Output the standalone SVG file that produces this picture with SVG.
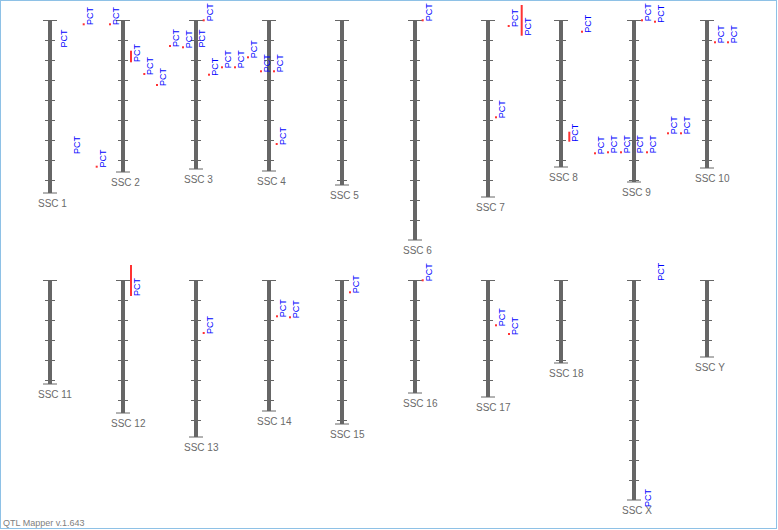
<svg xmlns="http://www.w3.org/2000/svg" width="778" height="530" viewBox="0 0 778 530">
<style>
.bar{fill:#666}
.tk{stroke:#666;stroke-width:1;fill:none}
.lab{font-family:"Liberation Sans",Arial,sans-serif;font-size:10px;fill:#6a6a6a}
.q{font-family:"Liberation Sans",Arial,sans-serif;font-size:9px;fill:#0000ff}
.d{fill:#f33}
.foot{font-family:"Liberation Sans",Arial,sans-serif;font-size:9px;fill:#808080}
</style>
<rect x="0.5" y="0.5" width="776" height="528" fill="#fff" stroke="#8ec1e6" stroke-width="1"/>

<g id="ssc1"><rect class="bar" x="48" y="20" width="4" height="173"/><path class="tk" d="M43 20.5h14M45 40.5h10M45 60.5h10M45 80.5h10M45 100.5h10M45 120.5h10M45 140.5h10M45 160.5h10M45 180.5h10M43 193h14"/><text class="lab" x="38" y="207">SSC 1</text></g>
<g id="ssc2"><rect class="bar" x="121" y="20" width="4" height="152"/><path class="tk" d="M116 20.5h14M118 40.5h10M118 60.5h10M118 80.5h10M118 100.5h10M118 120.5h10M118 140.5h10M118 160.5h10M116 172h14"/><text class="lab" x="111" y="186">SSC 2</text></g>
<g id="ssc3"><rect class="bar" x="194" y="20" width="4" height="149"/><path class="tk" d="M189 20.5h14M191 40.5h10M191 60.5h10M191 80.5h10M191 100.5h10M191 120.5h10M191 140.5h10M191 160.5h10M189 169h14"/><text class="lab" x="184" y="183">SSC 3</text></g>
<g id="ssc4"><rect class="bar" x="267" y="20" width="4" height="151"/><path class="tk" d="M262 20.5h14M264 40.5h10M264 60.5h10M264 80.5h10M264 100.5h10M264 120.5h10M264 140.5h10M264 160.5h10M262 171h14"/><text class="lab" x="257" y="185">SSC 4</text></g>
<g id="ssc5"><rect class="bar" x="340" y="20" width="4" height="165"/><path class="tk" d="M335 20.5h14M337 40.5h10M337 60.5h10M337 80.5h10M337 100.5h10M337 120.5h10M337 140.5h10M337 160.5h10M337 180.5h10M335 185h14"/><text class="lab" x="330" y="199">SSC 5</text></g>
<g id="ssc6"><rect class="bar" x="413" y="20" width="4" height="220"/><path class="tk" d="M408 20.5h14M410 40.5h10M410 60.5h10M410 80.5h10M410 100.5h10M410 120.5h10M410 140.5h10M410 160.5h10M410 180.5h10M410 200.5h10M410 220.5h10M408 240h14"/><text class="lab" x="403" y="254">SSC 6</text></g>
<g id="ssc7"><rect class="bar" x="486" y="20" width="4" height="177"/><path class="tk" d="M481 20.5h14M483 40.5h10M483 60.5h10M483 80.5h10M483 100.5h10M483 120.5h10M483 140.5h10M483 160.5h10M483 180.5h10M481 197h14"/><text class="lab" x="476" y="211">SSC 7</text></g>
<g id="ssc8"><rect class="bar" x="559" y="20" width="4" height="147"/><path class="tk" d="M554 20.5h14M556 40.5h10M556 60.5h10M556 80.5h10M556 100.5h10M556 120.5h10M556 140.5h10M556 160.5h10M554 167h14"/><text class="lab" x="549" y="181">SSC 8</text></g>
<g id="ssc9"><rect class="bar" x="632" y="20" width="4" height="162"/><path class="tk" d="M627 20.5h14M629 40.5h10M629 60.5h10M629 80.5h10M629 100.5h10M629 120.5h10M629 140.5h10M629 160.5h10M629 180.5h10M627 182h14"/><text class="lab" x="622" y="196">SSC 9</text></g>
<g id="ssc10"><rect class="bar" x="705" y="20" width="4" height="148"/><path class="tk" d="M700 20.5h14M702 40.5h10M702 60.5h10M702 80.5h10M702 100.5h10M702 120.5h10M702 140.5h10M702 160.5h10M700 168h14"/><text class="lab" x="695" y="182">SSC 10</text></g>

<g id="ssc11"><rect class="bar" x="48" y="280" width="4" height="104"/><path class="tk" d="M43 280.5h14M45 300.5h10M45 320.5h10M45 340.5h10M45 360.5h10M45 380.5h10M43 384h14"/><text class="lab" x="38" y="398">SSC 11</text></g>
<g id="ssc12"><rect class="bar" x="121" y="280" width="4" height="133"/><path class="tk" d="M116 280.5h14M118 300.5h10M118 320.5h10M118 340.5h10M118 360.5h10M118 380.5h10M118 400.5h10M116 413h14"/><text class="lab" x="111" y="427">SSC 12</text></g>
<g id="ssc13"><rect class="bar" x="194" y="280" width="4" height="157"/><path class="tk" d="M189 280.5h14M191 300.5h10M191 320.5h10M191 340.5h10M191 360.5h10M191 380.5h10M191 400.5h10M191 420.5h10M189 437h14"/><text class="lab" x="184" y="451">SSC 13</text></g>
<g id="ssc14"><rect class="bar" x="267" y="280" width="4" height="131"/><path class="tk" d="M262 280.5h14M264 300.5h10M264 320.5h10M264 340.5h10M264 360.5h10M264 380.5h10M264 400.5h10M262 411h14"/><text class="lab" x="257" y="425">SSC 14</text></g>
<g id="ssc15"><rect class="bar" x="340" y="280" width="4" height="144"/><path class="tk" d="M335 280.5h14M337 300.5h10M337 320.5h10M337 340.5h10M337 360.5h10M337 380.5h10M337 400.5h10M337 420.5h10M335 424h14"/><text class="lab" x="330" y="438">SSC 15</text></g>
<g id="ssc16"><rect class="bar" x="413" y="280" width="4" height="113"/><path class="tk" d="M408 280.5h14M410 300.5h10M410 320.5h10M410 340.5h10M410 360.5h10M410 380.5h10M408 393h14"/><text class="lab" x="403" y="407">SSC 16</text></g>
<g id="ssc17"><rect class="bar" x="486" y="280" width="4" height="117"/><path class="tk" d="M481 280.5h14M483 300.5h10M483 320.5h10M483 340.5h10M483 360.5h10M483 380.5h10M481 397h14"/><text class="lab" x="476" y="411">SSC 17</text></g>
<g id="ssc18"><rect class="bar" x="559" y="280" width="4" height="83"/><path class="tk" d="M554 280.5h14M556 300.5h10M556 320.5h10M556 340.5h10M556 360.5h10M554 363h14"/><text class="lab" x="549" y="377">SSC 18</text></g>
<g id="sscX"><rect class="bar" x="632" y="280" width="4" height="220"/><path class="tk" d="M627 280.5h14M629 300.5h10M629 320.5h10M629 340.5h10M629 360.5h10M629 380.5h10M629 400.5h10M629 420.5h10M629 440.5h10M629 460.5h10M629 480.5h10M627 500h14"/><text class="lab" x="622" y="514">SSC X</text></g>
<g id="sscY"><rect class="bar" x="705" y="280" width="4" height="77"/><path class="tk" d="M700 280.5h14M702 300.5h10M702 320.5h10M702 340.5h10M700 357h14"/><text class="lab" x="695" y="371">SSC Y</text></g>

<g id="qtls">
<text class="q" transform="translate(67 47.5) rotate(-90)">PCT</text>
<text class="q" transform="translate(80.3 154) rotate(-90)">PCT</text>
<rect class="d" x="95.7" y="165.7" width="2" height="2"/><text class="q" transform="translate(105.5 167.5) rotate(-90)">PCT</text>
<rect class="d" x="82.7" y="23.3" width="2" height="2"/><text class="q" transform="translate(92.7 25) rotate(-90)">PCT</text>
<rect class="d" x="109" y="23.3" width="2" height="2"/><text class="q" transform="translate(119 25) rotate(-90)">PCT</text>
<rect class="d" x="130" y="50.7" width="2" height="11.6"/><text class="q" transform="translate(140 62) rotate(-90)">PCT</text>
<rect class="d" x="143.3" y="73" width="2" height="2"/><text class="q" transform="translate(153 75) rotate(-90)">PCT</text>
<rect class="d" x="156" y="84" width="2" height="2"/><text class="q" transform="translate(166 86) rotate(-90)">PCT</text>
<rect class="d" x="169" y="45" width="2" height="2"/><text class="q" transform="translate(179 47) rotate(-90)">PCT</text>
<rect class="d" x="182" y="46.3" width="2" height="2"/><text class="q" transform="translate(192 48.3) rotate(-90)">PCT</text>
<text class="q" transform="translate(204.5 47.5) rotate(-90)">PCT</text>
<rect class="d" x="202.7" y="19.3" width="2" height="2"/><text class="q" transform="translate(212.7 21.3) rotate(-90)">PCT</text>
<rect class="d" x="208" y="73.7" width="2" height="2"/><text class="q" transform="translate(218 75.7) rotate(-90)">PCT</text>
<rect class="d" x="221" y="66.3" width="2" height="2"/><text class="q" transform="translate(231 68.3) rotate(-90)">PCT</text>
<rect class="d" x="234" y="66.3" width="2" height="2"/><text class="q" transform="translate(244 68.3) rotate(-90)">PCT</text>
<rect class="d" x="247" y="56.3" width="2" height="2"/><text class="q" transform="translate(257 58.3) rotate(-90)">PCT</text>
<rect class="d" x="260" y="70.3" width="2" height="2"/><text class="q" transform="translate(270 72.3) rotate(-90)">PCT</text>
<rect class="d" x="273" y="70.3" width="2" height="2"/><text class="q" transform="translate(283 72.3) rotate(-90)">PCT</text>
<rect class="d" x="275.7" y="143" width="2" height="2"/><text class="q" transform="translate(285.7 145) rotate(-90)">PCT</text>
<rect class="d" x="421.7" y="19.3" width="2" height="2"/><text class="q" transform="translate(431.7 21.3) rotate(-90)">PCT</text>
<rect class="d" x="507.7" y="25" width="2" height="2"/><text class="q" transform="translate(517.7 27) rotate(-90)">PCT</text>
<rect class="d" x="520.7" y="5" width="2" height="30.7"/><text class="q" transform="translate(530.7 35.5) rotate(-90)">PCT</text>
<rect class="d" x="495" y="116.3" width="2" height="2"/><text class="q" transform="translate(505 118.3) rotate(-90)">PCT</text>
<rect class="d" x="581" y="30.7" width="2" height="2"/><text class="q" transform="translate(591 32.7) rotate(-90)">PCT</text>
<rect class="d" x="568.3" y="131.7" width="2" height="10"/><text class="q" transform="translate(578.3 141.7) rotate(-90)">PCT</text>
<rect class="d" x="594" y="152.3" width="2" height="2"/><text class="q" transform="translate(604 154.3) rotate(-90)">PCT</text>
<rect class="d" x="607" y="151.3" width="2" height="2"/><text class="q" transform="translate(617 153.3) rotate(-90)">PCT</text>
<rect class="d" x="620" y="151.3" width="2" height="2"/><text class="q" transform="translate(630 153.3) rotate(-90)">PCT</text>
<text class="q" transform="translate(643 153.3) rotate(-90)">PCT</text>
<rect class="d" x="646" y="151.3" width="2" height="2"/><text class="q" transform="translate(656 153.3) rotate(-90)">PCT</text>
<rect class="d" x="641" y="19.3" width="2" height="2"/><text class="q" transform="translate(651 21.3) rotate(-90)">PCT</text>
<rect class="d" x="654" y="20.7" width="2" height="2"/><text class="q" transform="translate(664 22.7) rotate(-90)">PCT</text>
<rect class="d" x="667" y="132.3" width="2" height="2"/><text class="q" transform="translate(677 134.3) rotate(-90)">PCT</text>
<rect class="d" x="680" y="132.3" width="2" height="2"/><text class="q" transform="translate(690 134.3) rotate(-90)">PCT</text>
<rect class="d" x="714" y="41.3" width="2" height="2"/><text class="q" transform="translate(724 43.3) rotate(-90)">PCT</text>
<rect class="d" x="727" y="41.3" width="2" height="2"/><text class="q" transform="translate(737 43.3) rotate(-90)">PCT</text>
<rect class="d" x="130" y="265" width="2" height="31"/><text class="q" transform="translate(140 296) rotate(-90)">PCT</text>
<rect class="d" x="202.7" y="332" width="2" height="2"/><text class="q" transform="translate(212.7 334) rotate(-90)">PCT</text>
<rect class="d" x="276" y="315.3" width="2" height="2"/><text class="q" transform="translate(286 317.3) rotate(-90)">PCT</text>
<rect class="d" x="289" y="316.3" width="2" height="2"/><text class="q" transform="translate(299 318.3) rotate(-90)">PCT</text>
<rect class="d" x="349" y="291.3" width="2" height="2"/><text class="q" transform="translate(359 293.3) rotate(-90)">PCT</text>
<rect class="d" x="421.7" y="279.3" width="2" height="2"/><text class="q" transform="translate(431.7 281.3) rotate(-90)">PCT</text>
<rect class="d" x="495" y="324.3" width="2" height="2"/><text class="q" transform="translate(505 326.3) rotate(-90)">PCT</text>
<rect class="d" x="508" y="333" width="2" height="2"/><text class="q" transform="translate(518 335) rotate(-90)">PCT</text>
<text class="q" transform="translate(664.3 280.7) rotate(-90)">PCT</text>
<text class="q" transform="translate(651 507) rotate(-90)">PCT</text>
</g>

<text class="foot" x="3" y="526">QTL Mapper v.1.643</text>
</svg>
